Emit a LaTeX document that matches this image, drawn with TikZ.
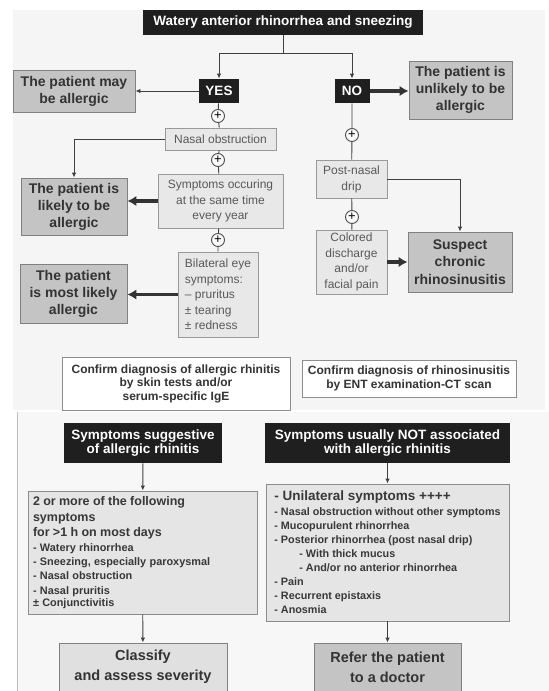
\documentclass[tikz,border=0pt]{standalone}
\usepackage{fontspec}
\setmainfont{Liberation Sans}
\usetikzlibrary{arrows.meta}
\setlength{\parindent}{0pt}
\hyphenpenalty=10000

\begin{document}
\begin{tikzpicture}[x=1pt,y=-1pt,line width=0.9pt,
  head/.style={fill=black!88,text=white,font=\fontsize{13.5}{14.5}\selectfont\bfseries,align=center,inner sep=2pt},
  result/.style={draw=black!50,fill=black!23,text=black!80,font=\fontsize{14}{17}\selectfont\bfseries,align=center,inner sep=2pt},
  plainbox/.style={draw=black!40,fill=black!9,text=black!65,font=\fontsize{12}{15.5}\selectfont,align=center,inner sep=2pt},
  confirm/.style={draw=black!45,fill=white,text=black!80,font=\fontsize{12}{13.5}\selectfont\bfseries,align=center},
  listbox/.style={draw=black!45,fill=black!10,text=black!78,font=\bfseries,align=left},
  plus/.style={circle,draw=black!70,fill=black!2,minimum size=13pt,inner sep=0pt,font=\fontsize{13}{13}\selectfont},
  link/.style={draw=black!75},
  thin arrow/.style={link,-{Latex[length=5pt,width=4.5pt]}},
  fat arrow/.style={draw=black!80,line width=3.4pt,-{Latex[length=9pt,width=10.5pt]}}]

\useasboundingbox (0,0) rectangle (549,691);
\clip (0,0) rectangle (549,691);

% Panels
\fill[black!4] (13,10) rectangle (545,410);
\fill[black!3] (17,412) rectangle (549,691);
\draw[black!25,line width=0.6pt] (17,412) -- (17,691);

% Question
\node[head,minimum width=280,minimum height=25] (title) at (283,22) {Watery anterior rhinorrhea and sneezing};
\coordinate (split) at (283,53);
\node[head,minimum width=40,minimum height=24] (yes) at (219,91) {YES};
\node[head,minimum width=35,minimum height=24] (no) at (352,91) {NO};

\node[result,minimum width=122,minimum height=42] (maybe) at (74,91) {The patient may\\be allergic};
\node[result,minimum width=103,minimum height=58] (unlikely) at (460.5,90) {The patient is\\unlikely to be\\allergic};

% Yes branch
\node[plus] (p1) at (218,116) {+};
\node[plainbox,minimum width=111,minimum height=22] (nasal) at (220.5,139) {Nasal obstruction};
\node[plus] (p2) at (218,160) {+};
\node[plainbox,minimum width=125,minimum height=54] (occur) at (220.5,201) {Symptoms occuring\\at the same time\\every year};
\node[result,minimum width=106,minimum height=57] (likely) at (74,206.5) {The patient is\\likely to be\\allergic};
\node[plus] (p3) at (218,240) {+};
\node[plainbox,minimum width=80,minimum height=85,align=left] (eye) at (218,294.5) {Bilateral eye\\symptoms:\\– pruritus\\± tearing\\± redness};
\node[result,minimum width=107,minimum height=59] (most) at (73.5,293.5) {The patient\\is most likely\\allergic};

% No branch
\node[plus] (q1) at (352,135) {+};
\node[plainbox,minimum width=71,minimum height=38,font=\fontsize{12}{16}\selectfont] (drip) at (351.5,179) {Post-nasal\\drip};
\node[plus] (q2) at (352,217) {+};
\node[plainbox,minimum width=71,minimum height=64] (colored) at (351.5,262) {Colored\\discharge\\and/or\\facial pain};
\node[result,minimum width=104,minimum height=60,font=\fontsize{14}{17.5}\selectfont\bfseries] (suspect) at (460,262) {Suspect\\chronic\\rhinosinusitis};

% Confirmation
\node[confirm,minimum width=228,minimum height=53] (confall) at (176,383.5) {Confirm diagnosis of allergic rhinitis\\by skin tests and/or\\serum-specific IgE};
\node[confirm,minimum width=214,minimum height=37] (confrhino) at (409,378.5) {Confirm diagnosis of rhinosinusitis\\by ENT examination-CT scan};

% Connectors
\draw[link] (title) -- (split);
\draw[thin arrow] (split) -| (yes);
\draw[thin arrow] (split) -| (no);
\draw[thin arrow] (yes) -- (maybe);
\draw[fat arrow] (no) -- (no -| unlikely.west);
\draw[link] (yes) -- (p1) -- (nasal) -- (p2) -- (occur) -- (p3) -- (eye);
\draw[thin arrow] (nasal) -| (likely);
\draw[fat arrow] (occur.west) -- (occur.west -| likely.east);
\draw[fat arrow] (eye.west) -- (eye.west -| most.east);
\draw[link] (no) -- (q1) -- (drip) -- (q2) -- (colored);
\draw[thin arrow] (drip) -| (suspect);
\draw[fat arrow] (colored) -- (suspect);

% Bottom table
\node[head,minimum width=158,minimum height=40] (sugg) at (143,443) {Symptoms suggestive\\of allergic rhinitis};
\node[head,minimum width=245,minimum height=40] (notass) at (387.5,443) {Symptoms usually NOT associated\\with allergic rhinitis};

\node[listbox,minimum width=229,minimum height=123,text width=219,inner xsep=5pt] (suglist) at (142.5,552.5) {\fontsize{12.5}{15.5}\selectfont 2 or more of the following\par symptoms\par for >1 h on most days\par
\fontsize{10.9}{14.3}\selectfont - Watery rhinorrhea\par - Sneezing, especially paroxysmal\par - Nasal obstruction\par - Nasal pruritis\par ± Conjunctivitis};
\node[listbox,minimum width=243,minimum height=137,font=\fontsize{10.8}{14}\selectfont\bfseries] (notlist) at (387.5,552.5) {{\fontsize{13.5}{16}\selectfont - Unilateral symptoms ++++}\\[1pt]
- Nasal obstruction without other symptoms\\- Mucopurulent rhinorrhea\\- Posterior rhinorrhea (post nasal drip)\\\hspace*{25pt}- With thick mucus\\\hspace*{25pt}- And/or no anterior rhinorrhea\\- Pain\\- Recurrent epistaxis\\- Anosmia};

\node[result,fill=black!12,minimum width=168,minimum height=48,font=\fontsize{14.5}{20}\selectfont\bfseries] (classify) at (143,667) {Classify\\and assess severity};
\node[result,minimum width=147,minimum height=48,font=\fontsize{14.5}{20}\selectfont\bfseries] (refer) at (387.5,667) {Refer the patient\\to a doctor};

\draw[thin arrow] (sugg) -- (suglist);
\draw[thin arrow] (suglist) -- (classify);
\draw[thin arrow] (notass) -- (notlist);
\draw[thin arrow] (notlist) -- (refer);

\end{tikzpicture}
\end{document}
